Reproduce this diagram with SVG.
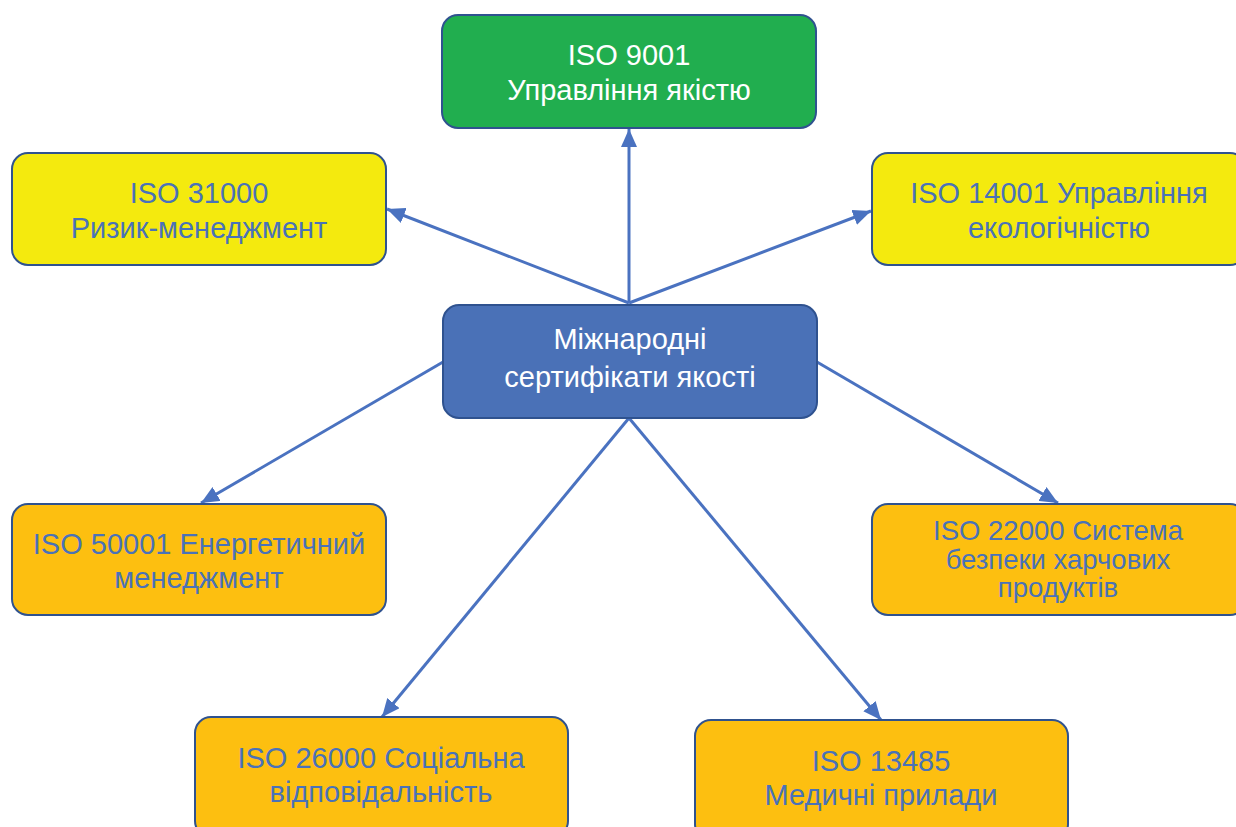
<svg xmlns="http://www.w3.org/2000/svg" width="1236" height="827" viewBox="0 0 1236 827">
<style>
.box{stroke:#2F528F;stroke-width:2}
.g{fill:#21AE4F}.b{fill:#4A71B7}.y{fill:#F4EA0E}.o{fill:#FDBF10}
text{font-family:"Liberation Sans",Arial,sans-serif;font-size:29px;text-anchor:middle}
.w{fill:#FFFFFF}.t{fill:#4A72B8}
.s{font-size:27.5px}
.c{stroke:#4A72C0;stroke-width:3;fill:none;marker-end:url(#ah)}
</style>
<defs>
<marker id="ah" markerUnits="userSpaceOnUse" markerWidth="20" markerHeight="16" refX="18" refY="8" orient="auto">
<path d="M0,0 L18,8 L0,16 Z" fill="#4A72C0"/>
</marker>
</defs>
<rect width="1236" height="827" fill="#FFFFFF"/>
<g id="connectors">
<line class="c" x1="629" y1="303" x2="629" y2="129"/>
<line class="c" x1="629" y1="303" x2="387" y2="209"/>
<line class="c" x1="629" y1="303" x2="871" y2="211"/>
<line class="c" x1="443" y1="362" x2="201" y2="503"/>
<line class="c" x1="817" y1="362" x2="1058" y2="503"/>
<line class="c" x1="629" y1="418" x2="382" y2="717"/>
<line class="c" x1="629" y1="418" x2="881" y2="720"/>
</g>
<g id="n-center">
<rect class="box b" x="443" y="305" width="374" height="113" rx="16"/>
<text class="w" x="630" y="349">Міжнародні</text>
<text class="w" x="630" y="387">сертифікати якості</text>
</g>
<g id="n-9001">
<rect class="box g" x="442" y="15" width="374" height="113" rx="16"/>
<text class="w" x="629" y="65">ISO 9001</text>
<text class="w" x="629" y="100">Управління якістю</text>
</g>
<g id="n-31000">
<rect class="box y" x="12" y="153" width="374" height="112" rx="16"/>
<text class="t" x="199" y="203">ISO 31000</text>
<text class="t" x="199" y="238">Ризик-менеджмент</text>
</g>
<g id="n-14001">
<rect class="box y" x="872" y="153" width="374" height="112" rx="16"/>
<text class="t" x="1059" y="203">ISO 14001 Управління</text>
<text class="t" x="1059" y="238">екологічністю</text>
</g>
<g id="n-50001">
<rect class="box o" x="12" y="504" width="374" height="111" rx="16"/>
<text class="t" x="199" y="554">ISO 50001 Енергетичний</text>
<text class="t" x="199" y="588">менеджмент</text>
</g>
<g id="n-22000">
<rect class="box o" x="872" y="504" width="374" height="111" rx="16"/>
<text class="t s" x="1058" y="540">ISO 22000 Система</text>
<text class="t s" x="1058" y="568.5">безпеки харчових</text>
<text class="t s" x="1058" y="597">продуктів</text>
</g>
<g id="n-26000">
<rect class="box o" x="195" y="717" width="373" height="120" rx="16"/>
<text class="t" x="381" y="768">ISO 26000 Соціальна</text>
<text class="t" x="381" y="802">відповідальність</text>
</g>
<g id="n-13485">
<rect class="box o" x="695" y="720" width="373" height="120" rx="16"/>
<text class="t" x="881" y="771">ISO 13485</text>
<text class="t" x="881" y="805">Медичні прилади</text>
</g>
</svg>
